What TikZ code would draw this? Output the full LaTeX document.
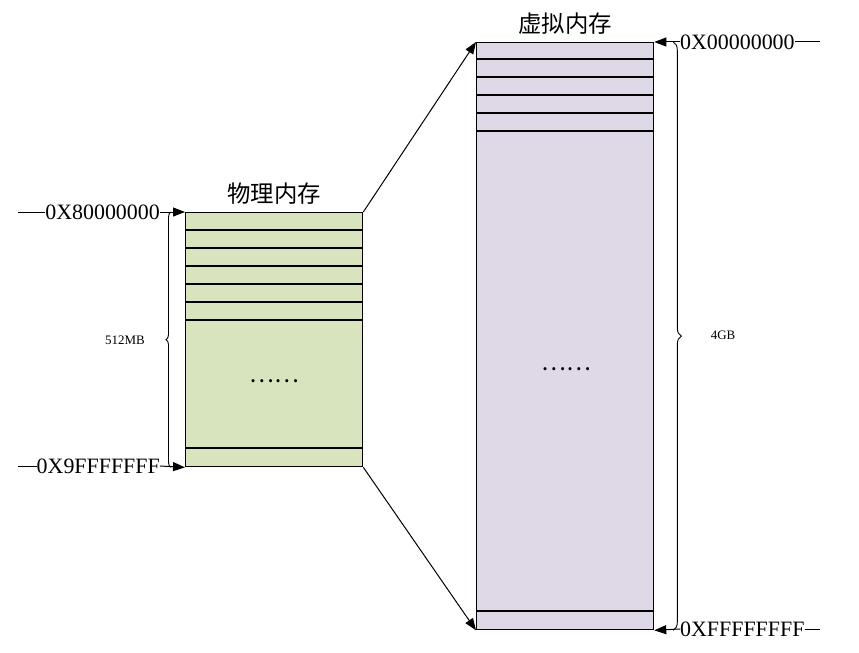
\documentclass[tikz,border=0pt]{standalone}
\usepackage{fontspec}
\setmainfont{Liberation Serif}
\newfontfamily\cjk{Noto Sans CJK SC}
\usetikzlibrary{arrows.meta,positioning,decorations.pathreplacing}
\newcommand{\MW}{177}
\newcommand{\PH}{254}
\newcommand{\VH}{587}
\definecolor{memphys}{RGB}{215,228,189}
\definecolor{memvirt}{RGB}{222,216,231}

\begin{document}
\begin{tikzpicture}[x=1bp, y=-1bp,
    >={Triangle[length=12bp,width=9bp]},
    cell/.style={draw=black, line width=1.3bp, inner sep=0pt, minimum width=\MW bp},
    row/.style={draw=black, line width=1.3bp},
    link/.style={draw=black, line width=1bp},
    addr/.style={font=\fontsize{22}{24}\selectfont, inner sep=0pt},
    title/.style={font=\cjk\fontsize{23.5}{26}\selectfont, inner sep=0pt},
    small/.style={font=\fontsize{13}{15}\selectfont, inner sep=0pt},
    brc/.style={draw=black, line width=0.9bp, decorate, decoration={brace, amplitude=#1}},
  ]
  \useasboundingbox (0,0) rectangle (859,653);

  % the two memories
  \node[cell, fill=memphys, minimum height=\PH bp, anchor=north west] (phys) at (185,212) {};
  \node[cell, fill=memvirt, minimum height=\VH bp, anchor=north west] (virt) at (476,42) {};

  \foreach \yy in {230,248,266,284,302,320,448} {
    \draw[row] (phys.west |- 0,\yy) -- (phys.east |- 0,\yy);
  }
  \foreach \yy in {59,77,95,113,131,611} {
    \draw[row] (virt.west |- 0,\yy) -- (virt.east |- 0,\yy);
  }

  \node[title, above=7bp of phys] (physname) {物理内存};
  \node[title, above=7bp of virt] (virtname) {虚拟内存};
  \node[title] (physdots) at (274,381) {……};
  \node[title] (virtdots) at (566,369) {……};

  % addresses
  \node[addr, anchor=east] (pstart) at (160,212) {0X80000000};
  \node[addr, anchor=east] (pend)   at (160,466) {0X9FFFFFFF};
  \node[addr, anchor=west] (vstart) at (680,42)  {0X00000000};
  \node[addr, anchor=west] (vend)   at (680,629) {0XFFFFFFFF};
  \coordinate (pstartl) at (18,212);
  \coordinate (pendl)   at (18,466);
  \coordinate (vstartr) at (820,42);
  \coordinate (vendr)   at (820,629);

  \draw[link] (pstartl) -- (pstart.west);
  \draw[link] (pendl) -- (pend.west);
  \draw[link] (vstart.east) -- (vstartr);
  \draw[link] (vend.east) -- (vendr);
  \draw[link,->] (pstart.east) -- (phys.north west);
  \draw[link,->] (pend.east) -- (phys.south west);
  \draw[link,->] (vstart.west) -- (virt.north east);
  \draw[link,->] (vend.west) -- (virt.south east);

  % mapping
  \draw[link,->] (phys.north east) -- (virt.north west);
  \draw[link,->] (phys.south east) -- (virt.south west);

  % sizes
  \draw[brc=5bp] ([xshift=-14bp]phys.south west) -- ([xshift=-14bp]phys.north west);
  \draw[brc=8bp] ([xshift=19bp]virt.north east) -- ([xshift=19bp]virt.south east);
  \node[small] (psize) at (125,340) {512MB};
  \node[small] (vsize) at (723,335) {4GB};

\end{tikzpicture}
\end{document}
